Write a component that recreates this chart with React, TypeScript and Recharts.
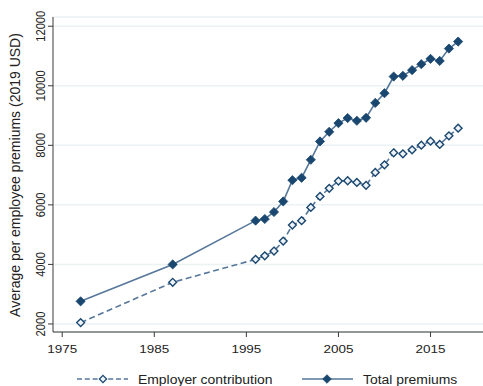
import { LineChart, Line, XAxis, YAxis, CartesianGrid, Legend } from 'recharts'

const years = [1977, 1987, 1996, 1997, 1998, 1999, 2000, 2001, 2002, 2003, 2004, 2005, 2006, 2007, 2008, 2009, 2010, 2011, 2012, 2013, 2014, 2015, 2016, 2017, 2018]
const employerContribution = [2045, 3400, 4170, 4290, 4450, 4785, 5320, 5470, 5915, 6285, 6555, 6800, 6810, 6755, 6655, 7090, 7345, 7750, 7715, 7850, 8005, 8140, 8030, 8320, 8575]
const totalPremiums = [2760, 4000, 5470, 5525, 5760, 6115, 6830, 6910, 7515, 8130, 8455, 8745, 8915, 8825, 8925, 9425, 9750, 10310, 10335, 10525, 10725, 10905, 10835, 11250, 11485]
const xTicks = [1975, 1985, 1995, 2005, 2015]
const yTicks = [2000, 4000, 6000, 8000, 10000, 12000]

const data = years.map((year, i) => ({
  year,
  employer: employerContribution[i],
  total: totalPremiums[i]
}))

const NAVY = '#1a476f'
const LINE_COLOR = '#56779a'
const AXIS_COLOR = '#3a3a3a'
const TEXT_COLOR = '#222'
const FONT = '"Liberation Sans", Arial, Helvetica, sans-serif'
// text in this figure is slightly wider than tall
const STRETCH = 1.16

const diamond = (cx: number, cy: number, r: number) =>
  `M${cx},${cy - r} L${cx + r},${cy} L${cx},${cy + r} L${cx - r},${cy} Z`

const FilledDiamond = (props: any) => {
  const { cx, cy, index } = props
  if (cx == null || cy == null) return null
  return <path key={`t-${index}`} d={diamond(cx, cy, 4.6)} fill={NAVY} stroke={NAVY} strokeWidth={0.8} />
}

const HollowDiamond = (props: any) => {
  const { cx, cy, index } = props
  if (cx == null || cy == null) return null
  return <path key={`e-${index}`} d={diamond(cx, cy, 3.9)} fill="#eef3f7" stroke={NAVY} strokeWidth={1.4} />
}

const XTick = (props: any) => {
  const { x, payload } = props
  return (
    <text
      transform={`translate(${x},353) scale(${STRETCH},1)`}
      textAnchor="middle"
      fontSize={11.6}
      fontFamily={FONT}
      fill={TEXT_COLOR}
    >
      {payload.value}
    </text>
  )
}

const YTick = (props: any) => {
  const { y, payload } = props
  return (
    <text
      transform={`translate(45,${y}) scale(${STRETCH},1) rotate(-90)`}
      textAnchor="middle"
      fontSize={11.2}
      fontFamily={FONT}
      fill={TEXT_COLOR}
    >
      {payload.value}
    </text>
  )
}

const YTitle = () => (
  <text
    transform="translate(19.5,175) rotate(-90)"
    textAnchor="middle"
    fontSize={14}
    fontFamily={FONT}
    fill={TEXT_COLOR}
  >
    Average per employee premiums (2019 USD)
  </text>
)

const LegendContent = () => (
  <svg width={483} height={20}>
    <line x1={77} x2={128} y1={10} y2={10} stroke={LINE_COLOR} strokeWidth={1.6} strokeDasharray="5 2.8" />
    <path d={diamond(103, 10, 3.6)} fill="#eef3f7" stroke={NAVY} strokeWidth={1.3} />
    <text transform={`translate(138,14.5) scale(${STRETCH},1)`} fontSize={12} fontFamily={FONT} fill={TEXT_COLOR}>
      Employer contribution
    </text>
    <line x1={302} x2={353} y1={10} y2={10} stroke={LINE_COLOR} strokeWidth={1.6} />
    <path d={diamond(327, 10, 4.3)} fill={NAVY} stroke={NAVY} strokeWidth={0.8} />
    <text transform={`translate(363,14.5) scale(${STRETCH},1)`} fontSize={12} fontFamily={FONT} fill={TEXT_COLOR}>
      Total premiums
    </text>
  </svg>
)

export default function App() {
  return (
    <div style={{ position: 'absolute', left: 0, top: 0, width: 483, height: 386, background: '#fff' }}>
      <LineChart width={483} height={386} data={data} margin={{ top: 17, right: 0, left: 0, bottom: 0 }}>
        <CartesianGrid vertical={false} stroke="#eaf2f3" strokeWidth={1.5} />
        <XAxis
          dataKey="year"
          type="number"
          domain={[1974, 2020.7]}
          ticks={xTicks}
          allowDataOverflow
          height={54}
          stroke={AXIS_COLOR}
          tickSize={5}
          tick={<XTick />}
        />
        <YAxis
          type="number"
          domain={[1730, 12310]}
          ticks={yTicks}
          allowDataOverflow
          width={53}
          stroke={AXIS_COLOR}
          tickSize={5}
          tick={<YTick />}
          label={{ content: () => <YTitle /> }}
        />
        <Legend
          layout="horizontal"
          verticalAlign="middle"
          align="center"
          wrapperStyle={{ position: 'absolute', left: 0, top: 369, width: 483, height: 20 }}
          content={() => <LegendContent />}
        />
        <Line
          dataKey="employer"
          name="Employer contribution"
          stroke={LINE_COLOR}
          strokeWidth={1.6}
          strokeDasharray="6 3.5"
          dot={HollowDiamond}
          activeDot={false}
          isAnimationActive={false}
        />
        <Line
          dataKey="total"
          name="Total premiums"
          stroke={LINE_COLOR}
          strokeWidth={1.6}
          dot={FilledDiamond}
          activeDot={false}
          isAnimationActive={false}
        />
      </LineChart>
    </div>
  )
}
